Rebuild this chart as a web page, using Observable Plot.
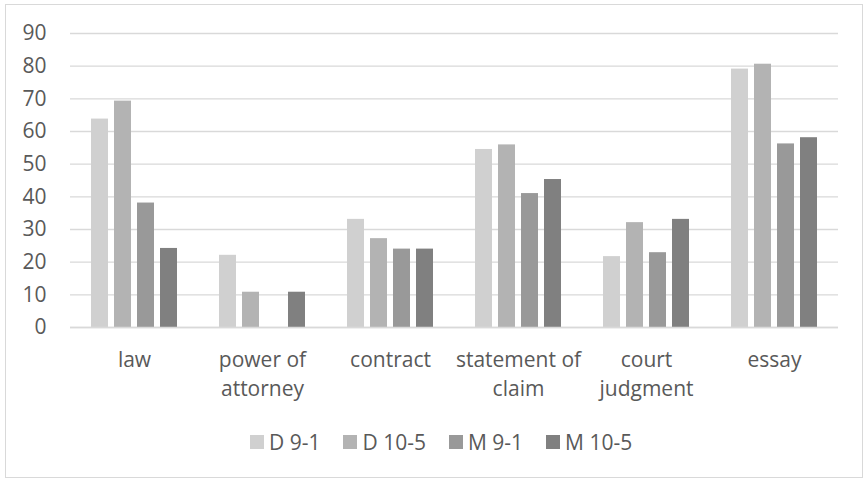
<!DOCTYPE html>
<html>
<head>
<meta charset="utf-8">
<script src="https://cdn.jsdelivr.net/npm/d3@7"></script>
<script src="https://cdn.jsdelivr.net/npm/@observablehq/plot@0.6"></script>
<style>
  html, body { margin: 0; padding: 0; background: #fff; }
  #frame { position: absolute; left: 5px; top: 4px; width: 858px; height: 474px; box-sizing: border-box; border: 1px solid #d9d9d9; }
  #chart { position: absolute; left: 0; top: 0; }
  #legend { position: absolute; left: 250px; top: 425px; }
  .lg-swatches { font-family: "Open Sans", sans-serif !important; font-size: 21px !important; color: #595959 !important; }
  .lg-swatch { margin-right: 23px !important; }
  .lg-swatch > svg { margin-right: 5px !important; }
</style>
</head>
<body>
<div id="frame"></div>
<div id="chart"></div>
<div id="legend"></div>
<script>
const categories = ["law", "power of attorney", "contract", "statement of claim", "court judgment", "essay"];
const categoryLabels = ["law", "power of\nattorney", "contract", "statement of\nclaim", "court\njudgment", "essay"];
const series = ["D 9-1", "D 10-5", "M 9-1", "M 10-5"];
const d91  = [63.8, 22.1, 33.1, 54.5, 21.7, 79.1];
const d105 = [69.3, 10.8, 27.2, 55.9, 32.1, 80.6];
const m91  = [38.1, 0,    24.0, 41.0, 22.9, 56.2];
const m105 = [24.2, 10.8, 24.0, 45.3, 33.1, 58.1];
const yTicks = [0, 10, 20, 30, 40, 50, 60, 70, 80, 90];
const colors = ["#d0d0d0", "#b3b3b3", "#999999", "#808080"];

const seriesValues = [d91, d105, m91, m105];
const data = [];
categories.forEach((c, i) => {
  series.forEach((s, j) => data.push({category: c, series: s, value: seriesValues[j][i]}));
});
const labelOf = new Map(categories.map((c, i) => [c, categoryLabels[i]]));

const font = '"Open Sans", sans-serif';

const plot = Plot.plot({
  width: 864,
  height: 405,
  marginLeft: 69,
  marginRight: 25,
  marginTop: 33,
  marginBottom: 78,
  style: {fontFamily: font, background: "transparent", color: "#595959"},
  fx: {domain: categories, paddingInner: 0, paddingOuter: 0, label: null},
  x: {domain: series, paddingInner: 0.24, paddingOuter: 0.87, axis: null},
  y: {domain: [0, 90], label: null},
  color: {domain: series, range: colors},
  marks: [
    Plot.gridY(yTicks, {stroke: "#d9d9d9", strokeOpacity: 1, strokeWidth: 1.3}),
    Plot.barY(data, {fx: "category", x: "series", y: "value", fill: "series"}),
    Plot.ruleY([0], {stroke: "#d9d9d9", strokeWidth: 1.3}),
    Plot.axisY(yTicks, {tickSize: 0, tickPadding: 22, dx: -2, fontSize: 21, fill: "#595959", label: null}),
    Plot.axisFx({anchor: "bottom", tickSize: 0, tickPadding: 19, fontSize: 21, fill: "#595959", lineHeight: 1.38, label: null, tickFormat: d => labelOf.get(d)})
  ]
});
document.getElementById("chart").appendChild(plot);

const legend = plot.legend("color", {swatchSize: 14, swatchWidth: 14, swatchHeight: 14, className: "lg"});
document.getElementById("legend").appendChild(legend);
</script>
</body>
</html>
